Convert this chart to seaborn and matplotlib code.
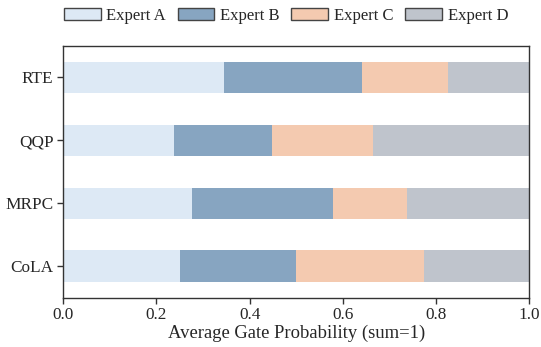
import numpy as np
import pandas as pd
import matplotlib
matplotlib.use("Agg")
import matplotlib.pyplot as plt
import seaborn as sns
from matplotlib.patches import Patch

# Dữ liệu
tasks = ["RTE", "QQP", "MRPC", "CoLA"]
experts = ["Expert A", "Expert B", "Expert C", "Expert D"]
expert_a = [0.345, 0.238, 0.276, 0.250]
expert_b = [0.296, 0.210, 0.303, 0.249]
expert_c = [0.184, 0.217, 0.158, 0.275]
expert_d = [0.175, 0.335, 0.263, 0.226]
colors = ["#dde9f5", "#87a5c1", "#f4cab0", "#bfc4cc"]

df = pd.DataFrame({"Task": tasks, "Expert A": expert_a, "Expert B": expert_b,
                   "Expert C": expert_c, "Expert D": expert_d})
cum = df[experts].cumsum(axis=1)
cum["Task"] = df["Task"]

sns.set_theme(style="ticks")
plt.rcParams["font.family"] = ["Liberation Serif", "DejaVu Serif"]

fig, ax = plt.subplots(figsize=(5.41, 3.47), dpi=100)
fig.subplots_adjust(left=0.117, right=0.978, top=0.868, bottom=0.142)

# vẽ từ cột tích lũy lớn nhất xuống nhỏ nhất để xếp chồng
for name, col in reversed(list(zip(experts, colors))):
    sns.barplot(data=cum, x=name, y="Task", order=tasks, color=col,
                saturation=1, width=0.5, ax=ax, linewidth=0)

ax.set_xlim(0, 1.0)
ax.set_xticks(np.arange(0, 1.01, 0.2))
ax.set_xlabel("Average Gate Probability (sum=1)", fontsize=13.4, labelpad=1)
ax.set_ylabel("")
ax.tick_params(axis="both", labelsize=12.4, direction="out", length=4,
               width=1, color="#333333", pad=3)
for s in ax.spines.values():
    s.set_visible(True)
    s.set_color("#333333")
    s.set_linewidth(1.0)

handles = [Patch(facecolor=c, edgecolor="#444444", linewidth=1, label=n)
           for n, c in zip(experts, colors)]
ax.legend(handles=handles, loc="center", bbox_to_anchor=(0.478, 1.119),
          ncol=4, frameon=False, fontsize=12.0, handlelength=2.2,
          handleheight=0.75, columnspacing=0.7, handletextpad=0.35,
          borderaxespad=0, borderpad=0)

fig.savefig("out.png", dpi=100)
